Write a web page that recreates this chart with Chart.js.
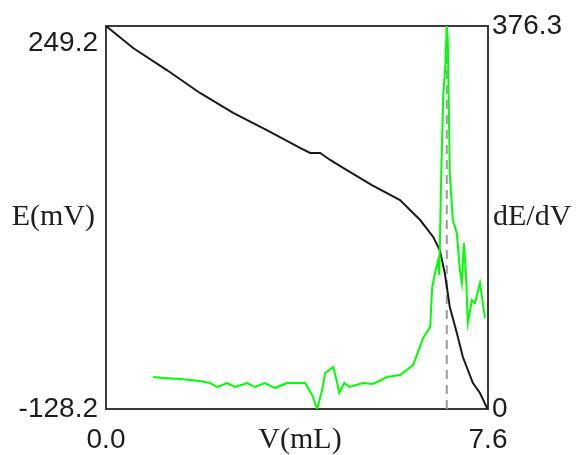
<!DOCTYPE html>
<html>
<head>
<meta charset="utf-8">
<script src="https://cdn.jsdelivr.net/npm/chart.js@4"></script>
<style>
  html, body { margin: 0; padding: 0; background: #fff; }
  #wrap { width: 581px; height: 455px; }
</style>
</head>
<body>
<div id="wrap"><canvas id="titrationChart"></canvas></div>
<script>
// titration curve E(mV) vs V(mL)
const volumes = [0, 0.54, 1.21, 1.87, 2.53, 3.20, 3.86, 4.06, 4.26, 4.46, 4.66, 5.29, 5.85, 6.25, 6.51, 6.64, 6.74, 6.84, 6.98, 7.10, 7.30, 7.44, 7.58, 7.6]
const potentials = [249.2, 227.5, 205.8, 183.2, 163.5, 146.7, 129.0, 124.1, 124.1, 117.2, 111.2, 92.5, 77.7, 58.0, 41.3, 28.5, 5.8, -27.7, -53.3, -77.0, -102.6, -112.4, -127.2, -128.2]

// first derivative dE/dV
const derivVolumes = [0.94, 1.13, 1.47, 1.87, 2.07, 2.21, 2.41, 2.57, 2.81, 2.96, 3.16, 3.36, 3.60, 3.80, 3.96, 4.10, 4.20, 4.30, 4.36, 4.52, 4.60, 4.64, 4.74, 4.85, 5.11, 5.31, 5.59, 5.85, 6.11, 6.31, 6.45, 6.49, 6.55, 6.61, 6.63, 6.67, 6.71, 6.75, 6.78, 6.80, 6.84, 6.90, 6.98, 7.04, 7.08, 7.12, 7.16, 7.20, 7.28, 7.34, 7.44, 7.48, 7.54]
const derivs = [31.4, 30.5, 29.5, 27.5, 25.5, 21.6, 25.5, 21.6, 25.5, 21.6, 25.5, 20.6, 25.5, 25.5, 25.5, 13.8, 0, 18.7, 35.4, 41.3, 25.5, 15.7, 25.5, 21.6, 25.5, 24.6, 31.4, 33.4, 43.2, 69.8, 80.6, 119.9, 134.6, 146.4, 131.7, 231.9, 308.5, 336.0, 376.3, 362.5, 231.9, 185.7, 172.9, 136.6, 123.8, 163.1, 133.6, 84.5, 107.1, 104.1, 123.8, 110.0, 89.4]

const equivalenceVolume = 6.78
const xTicks = [0, 7.6]
const eTicks = [-128.2, 249.2]
const dTicks = [0, 376.3]

const numFont = { family: "'Liberation Sans', Arial, sans-serif", size: 28 }
const textColor = '#1e1e1e'

// no extra room for labels that stick out, the sizes are fixed
function fixBox(size) {
  return s => {
    if (s.isHorizontal()) s.height = size
    else s.width = size
    s.paddingTop = 0
    s.paddingBottom = 0
    s.paddingLeft = 0
    s.paddingRight = 0
  }
}

const framePlugin = {
  id: 'frame',
  beforeDatasetsDraw(chart) {
    const { ctx, chartArea: a } = chart
    ctx.save()
    ctx.strokeStyle = '#3a3a3a'
    ctx.lineWidth = 2
    ctx.strokeRect(a.left, a.top, a.right - a.left, a.bottom - a.top)
    ctx.restore()
  },
  afterDraw(chart) {
    const { ctx, chartArea: a } = chart
    const midY = (a.top + a.bottom) / 2
    ctx.save()
    ctx.fillStyle = textColor
    ctx.font = "30px 'Liberation Serif', 'Times New Roman', serif"
    ctx.textBaseline = 'middle'
    ctx.textAlign = 'right'
    ctx.fillText('E(mV)', a.left - 11, midY)
    ctx.textAlign = 'left'
    ctx.fillText('dE/dV', a.right + 5, midY)
    ctx.textAlign = 'center'
    ctx.fillText('V(mL)', 300, a.bottom + 31)
    ctx.restore()
  }
}

new Chart('titrationChart', {
  type: 'line',
  data: {
    datasets: [
      {
        label: 'dE/dV',
        data: derivVolumes.map((v, i) => ({ x: v, y: derivs[i] })),
        yAxisID: 'y1',
        borderColor: '#00ff00',
        borderWidth: 2
      },
      {
        label: 'E',
        data: volumes.map((v, i) => ({ x: v, y: potentials[i] })),
        yAxisID: 'y',
        borderColor: '#1a1a1a',
        borderWidth: 2
      },
      {
        label: 'equivalence',
        data: [{ x: equivalenceVolume, y: dTicks[0] }, { x: equivalenceVolume, y: dTicks[1] }],
        yAxisID: 'y1',
        borderColor: '#9c9c9c',
        borderWidth: 2,
        borderDash: [9, 6]
      }
    ]
  },
  options: {
    responsive: true,
    maintainAspectRatio: false,
    animation: false,
    elements: { point: { radius: 0 }, line: { tension: 0 } },
    layout: { padding: { top: 26, left: 0, right: 0, bottom: 0 } },
    plugins: {
      legend: { display: false },
      tooltip: { enabled: false }
    },
    scales: {
      x: {
        type: 'linear',
        min: xTicks[0],
        max: xTicks[1],
        grid: { display: false, drawTicks: false },
        border: { display: false },
        afterBuildTicks: s => { s.ticks = xTicks.map(v => ({ value: v })) },
        afterFit: fixBox(46),
        ticks: {
          font: numFont,
          color: textColor,
          padding: 14,
          maxRotation: 0,
          callback: v => v.toFixed(1)
        }
      },
      y: {
        position: 'left',
        min: eTicks[0],
        max: eTicks[1],
        grid: { display: false, drawTicks: false },
        border: { display: false },
        afterBuildTicks: s => { s.ticks = eTicks.map(v => ({ value: v })) },
        afterFit: fixBox(106),
        ticks: {
          font: numFont,
          color: textColor,
          padding: 8,
          callback: v => v === eTicks[1] ? ['', v.toFixed(1)] : v.toFixed(1)
        }
      },
      y1: {
        position: 'right',
        min: dTicks[0],
        max: dTicks[1],
        grid: { display: false, drawTicks: false },
        border: { display: false },
        afterBuildTicks: s => { s.ticks = dTicks.map(v => ({ value: v })) },
        afterFit: fixBox(93),
        ticks: {
          font: numFont,
          color: textColor,
          padding: 4,
          callback: v => v === 0 ? '0' : v.toFixed(1)
        }
      }
    }
  },
  plugins: [framePlugin]
})
</script>
</body>
</html>
